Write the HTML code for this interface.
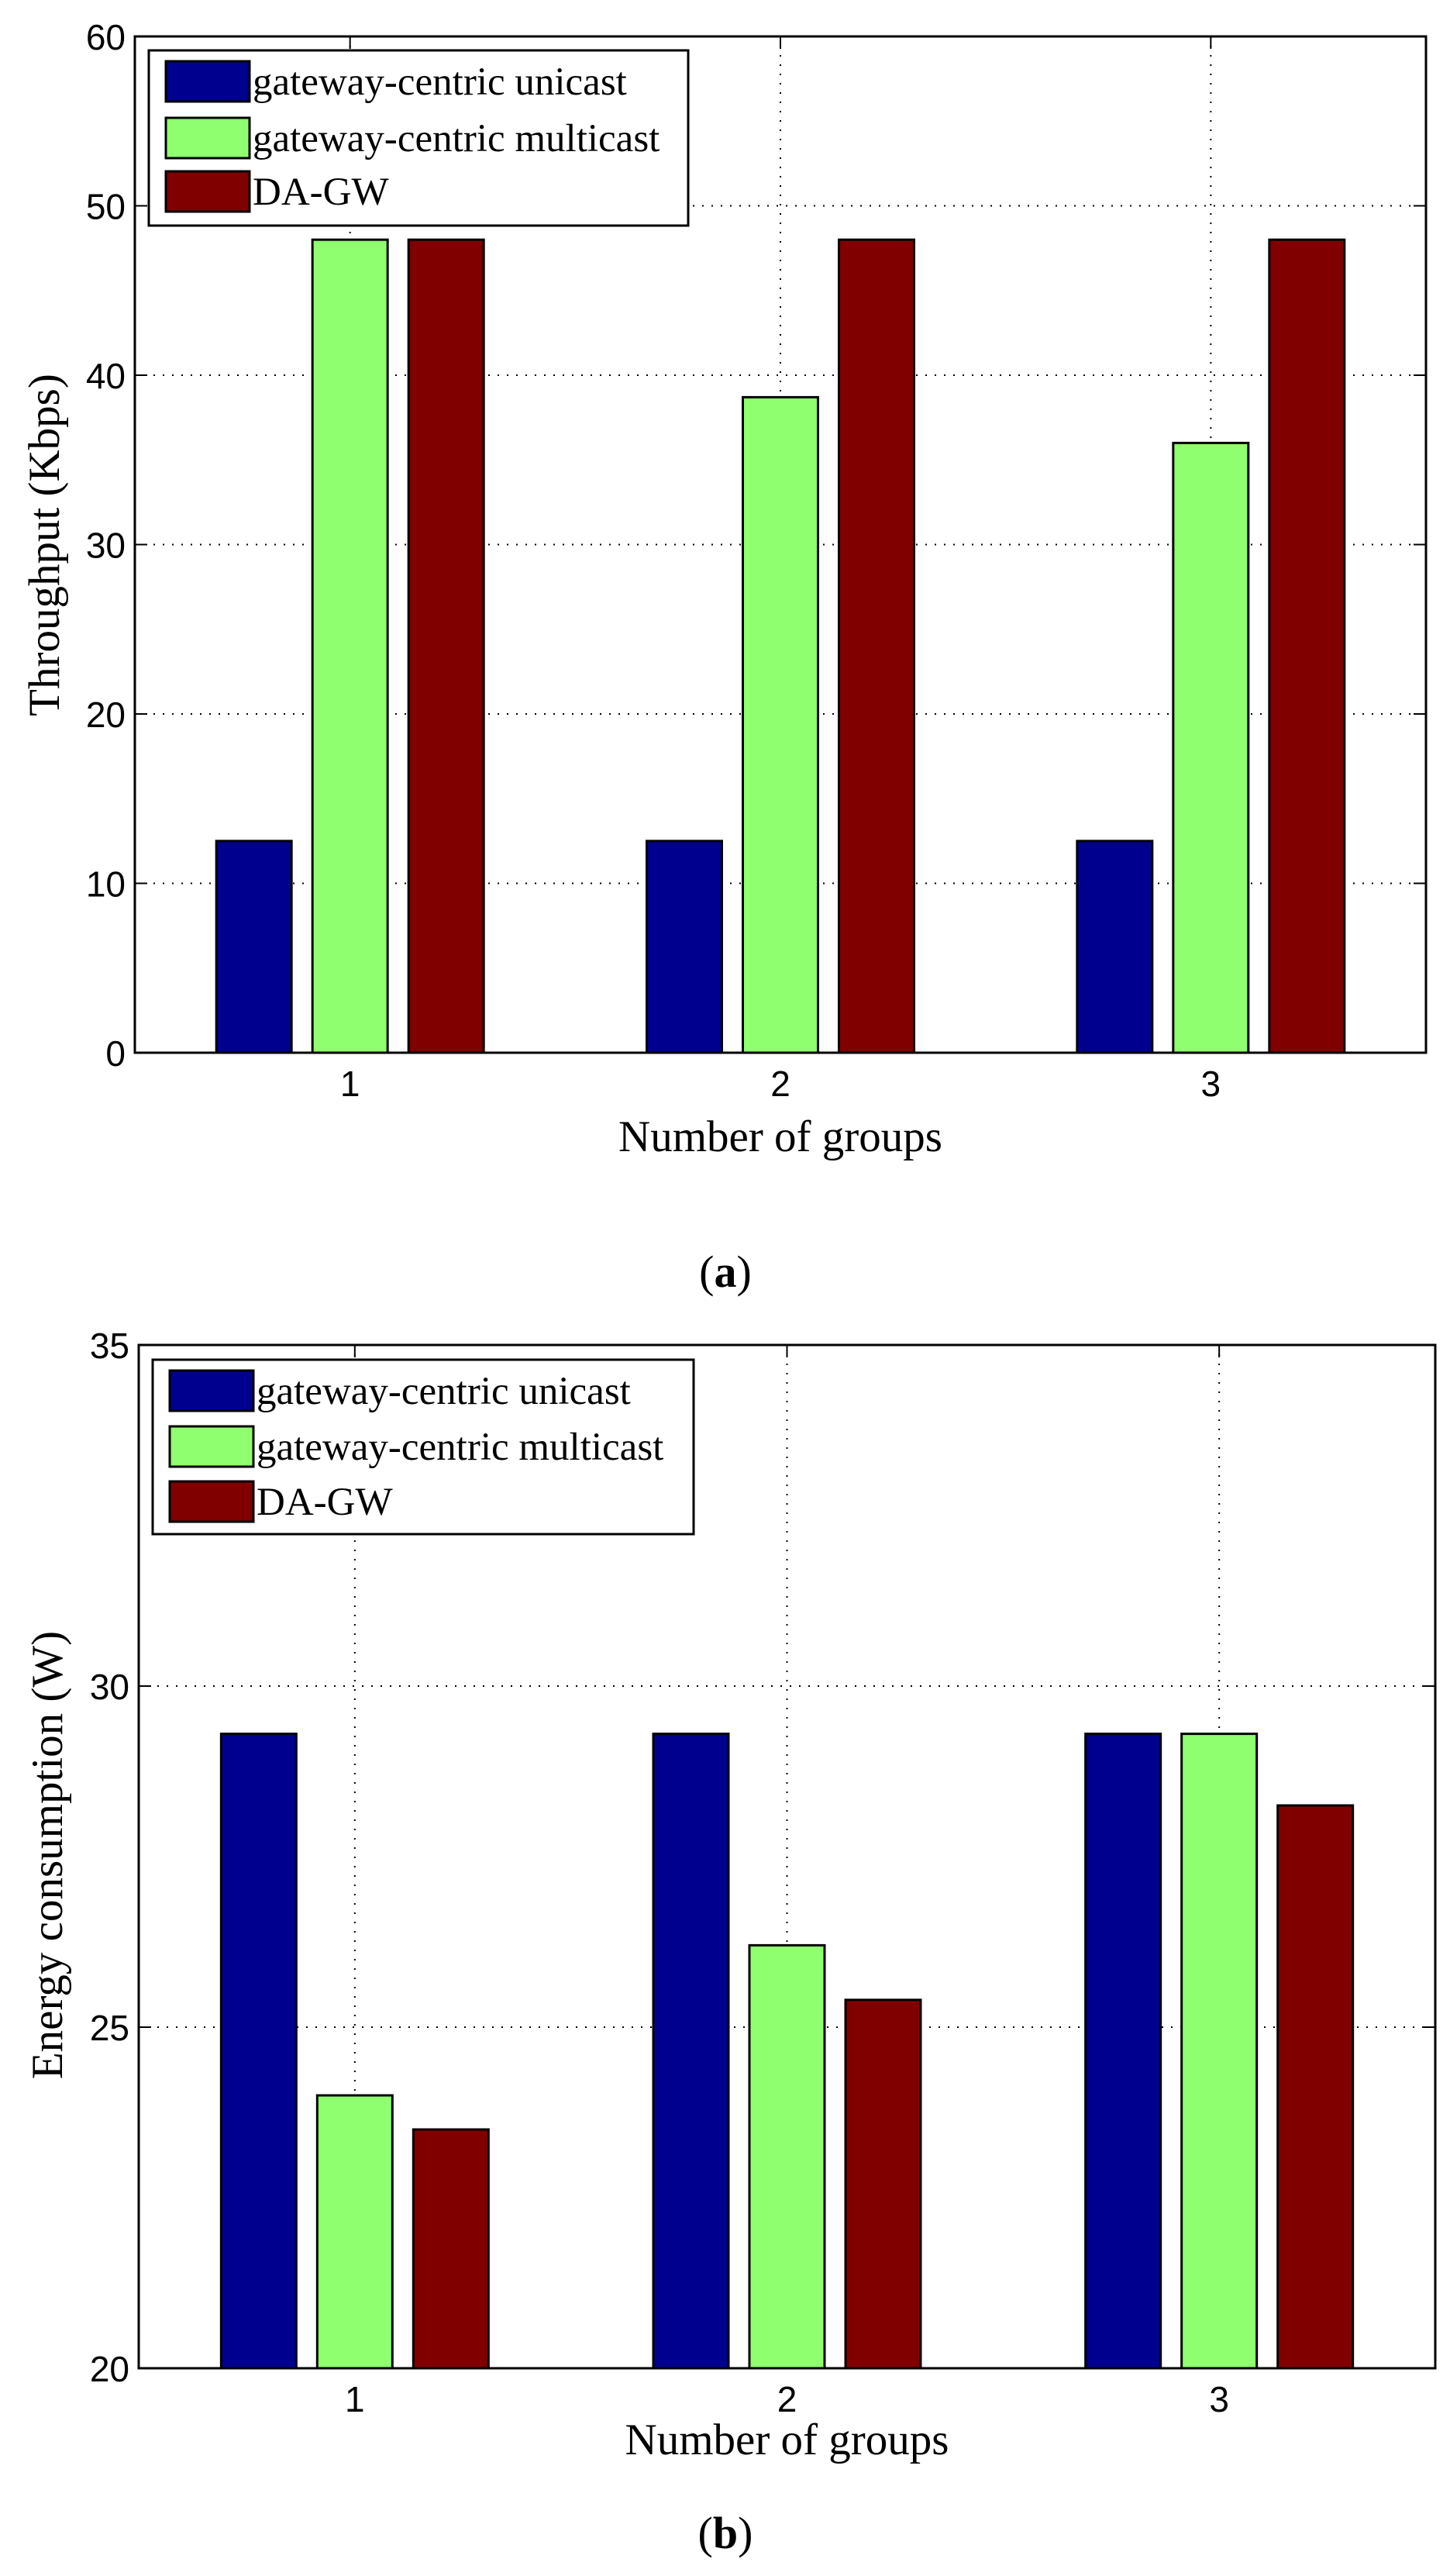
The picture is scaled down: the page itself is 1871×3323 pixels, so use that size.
<!DOCTYPE html>
<html><head><meta charset="utf-8"><style>
html,body{margin:0;padding:0;background:#fff;}
svg{display:block;}
</style></head><body>
<svg id="fig" xmlns="http://www.w3.org/2000/svg" width="1871" height="3323" viewBox="0 0 1871 3323"></svg>
<script>
const categories = ["1", "2", "3"];
const seriesNames = ["gateway-centric unicast", "gateway-centric multicast", "DA-GW"];
const seriesColors = ["#00008f", "#8fff6f", "#800000"];
const throughputUnicast = [12.5, 12.5, 12.5];
const throughputMulticast = [48, 38.7, 36];
const throughputDAGW = [48, 48, 48];
const throughputTicks = [0, 10, 20, 30, 40, 50, 60];
const energyUnicast = [29.3, 29.3, 29.3];
const energyMulticast = [24.0, 26.2, 29.3];
const energyDAGW = [23.5, 25.4, 28.25];
const energyTicks = [20, 25, 30, 35];

const NS = "http://www.w3.org/2000/svg";
const svg = document.getElementById("fig");
function mk(tag, attrs, parent) {
  const e = document.createElementNS(NS, tag);
  for (const k in attrs) e.setAttribute(k, attrs[k]);
  (parent || svg).appendChild(e);
  return e;
}

function drawChart(cfg) {
  const g = mk("g", {});
  
  
  const L = cfg.left, R = cfg.right, T = cfg.top, B = cfg.bottom;
  const ymin = cfg.ticks[0], ymax = cfg.ticks[cfg.ticks.length - 1];
  const yS = v => B - (v - ymin) / (ymax - ymin) * (B - T);
  const xS = i => L + (i + 0.5) / categories.length * (R - L);
  const tickLen = 16;
  // grid lines
  cfg.ticks.forEach(t => {
    const y = yS(t);
    if (t !== ymin && t !== ymax) {
      const gl = mk("line", {x1: L, x2: R, y1: y, y2: y, stroke: "#000", "stroke-width": 2, "stroke-dasharray": "2 10"}, g);
      
      
    }
    mk("line", {x1: L, x2: L + tickLen, y1: y, y2: y, stroke: "#000", "stroke-width": 2}, g);
    mk("line", {x1: R - tickLen, x2: R, y1: y, y2: y, stroke: "#000", "stroke-width": 2}, g);
    const tl = mk("text", {x: L - 12, y: y + 17, "text-anchor": "end", "font-family": "Liberation Sans, sans-serif", "font-size": 46}, g);
    tl.textContent = t;
    
    
  });
  categories.forEach((c, i) => {
    const x = xS(i);
    const gl = mk("line", {x1: x, x2: x, y1: T, y2: B, stroke: "#000", "stroke-width": 2, "stroke-dasharray": "2 10"}, g);
    
    
    mk("line", {x1: x, x2: x, y1: T, y2: T + tickLen, stroke: "#000", "stroke-width": 2}, g);
    mk("line", {x1: x, x2: x, y1: B - tickLen, y2: B, stroke: "#000", "stroke-width": 2}, g);
    const tl = mk("text", {x: x, y: B + 56, "text-anchor": "middle", "font-family": "Liberation Sans, sans-serif", "font-size": 46}, g);
    tl.textContent = c;
    
    
  });
  // bars
  const bw = 97, off = 124;
  cfg.series.forEach((vals, s) => {
    vals.forEach((v, i) => {
      const cx = xS(i) + (s - 1) * off;
      const y = yS(v);
      const r = mk("rect", {x: cx - bw / 2, y: y, width: bw, height: B - y, fill: seriesColors[s], stroke: "#000", "stroke-width": 3}, g);
      
      
    });
  });
  // axes box
  const box = mk("rect", {x: L, y: T, width: R - L, height: B - T, fill: "none", stroke: "#000", "stroke-width": 3}, g);
  
  
  // legend
  const lg = mk("g", {}, g);
  
  
  mk("rect", {x: cfg.leg.x, y: cfg.leg.y, width: cfg.leg.w, height: cfg.leg.h, fill: "#fff", stroke: "#000", "stroke-width": 3}, lg);
  seriesNames.forEach((n, s) => {
    const cy = cfg.leg.rows[s];
    const e = mk("g", {}, lg);
    
    
    mk("rect", {x: cfg.leg.x + 22, y: cy - 26, width: 108, height: 52, fill: seriesColors[s], stroke: "#000", "stroke-width": 3}, e);
    const t = mk("text", {x: cfg.leg.x + 134, y: cy + 17, "font-family": "Liberation Serif, serif", "font-size": 51}, e);
    t.textContent = n;
  });
  // titles
  const xt = mk("text", {x: (L + R) / 2, y: cfg.xTitleY, "text-anchor": "middle", "font-family": "Liberation Serif, serif", "font-size": 57}, g);
  xt.textContent = "Number of groups";
  
  
  const yt = mk("text", {x: 0, y: 0, "text-anchor": "middle", "font-family": "Liberation Serif, serif", "font-size": 57, transform: "translate(" + (cfg.yTitleX) + "," + cfg.yTitleY + ") rotate(-90)"}, g);
  yt.textContent = cfg.yTitle;
  
  
  const cap = mk("text", {x: 936, y: cfg.capY, "text-anchor": "middle", "font-family": "Liberation Serif, serif", "font-size": 58}, g);
  cap.innerHTML = '(<tspan font-weight="bold">' + cfg.cap + '</tspan>)';
  
  
}

drawChart({name: "throughput-chart", left: 174, right: 1840, top: 47, bottom: 1358,
  ticks: throughputTicks, series: [throughputUnicast, throughputMulticast, throughputDAGW],
  leg: {x: 192, y: 65, w: 696, h: 226, rows: [105, 178, 247]},
  xTitleY: 1485, yTitleX: 76, yTitleY: 703, yTitle: "Throughput (Kbps)", capY: 1660, cap: "a"});
drawChart({name: "energy-chart", left: 179, right: 1852, top: 1735, bottom: 3055,
  ticks: energyTicks, series: [energyUnicast, energyMulticast, energyDAGW],
  leg: {x: 197, y: 1754, w: 698, h: 225, rows: [1794, 1866, 1937]},
  xTitleY: 3166, yTitleX: 80, yTitleY: 2393, yTitle: "Energy consumption (W)", capY: 3287, cap: "b"});
</script>
</body></html>
